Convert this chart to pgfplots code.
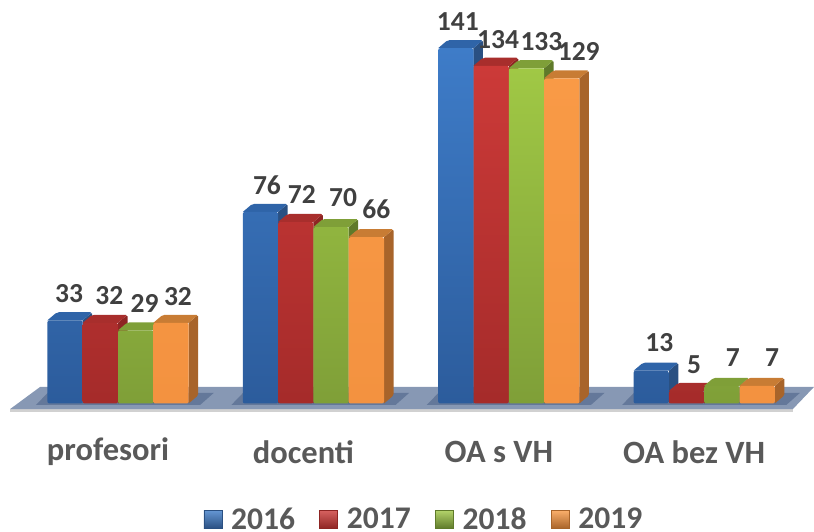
\documentclass[border=0pt]{standalone}
\usepackage{pgfplots}
\pgfplotsset{compat=1.18}
\usepackage{fontspec}
\setmainfont{Carlito}

\definecolor{labelgray}{HTML}{404040}
\definecolor{catgray}{HTML}{595959}
\definecolor{floorc}{HTML}{8798B4}
\definecolor{floorshadow}{HTML}{64789A}
\definecolor{front16a}{HTML}{3E7CC8}
\definecolor{front16b}{HTML}{2C5C9C}
\definecolor{side16}{HTML}{2A5082}
\definecolor{top16}{HTML}{2F64A8}
\definecolor{front17a}{HTML}{CC3A38}
\definecolor{front17b}{HTML}{A52B2A}
\definecolor{side17}{HTML}{8E2523}
\definecolor{top17}{HTML}{A82E2C}
\definecolor{front18a}{HTML}{A0C845}
\definecolor{front18b}{HTML}{7F9F38}
\definecolor{side18}{HTML}{5F7A2A}
\definecolor{top18}{HTML}{7F9F38}
\definecolor{front19a}{HTML}{F99A46}
\definecolor{front19b}{HTML}{F39240}
\definecolor{side19}{HTML}{A8642A}
\definecolor{top19}{HTML}{C87C34}

\newcommand{\bw}{0.1807}
\newcommand{\dd}{0.0486}
\newcommand{\ed}{3.2}
% side and top of one bar: group, position in group, value, side colour, top colour
\newcommand{\faces}[5]{%
  \pgfmathsetmacro\xa{#1+(#2-1.5)*\bw-\bw/2}%
  \pgfmathsetmacro\xb{\xa+\bw}%
  \pgfmathsetmacro\yb{#3+\ed}%
  \pgfmathsetmacro\xc{\xb+\dd}%
  \pgfmathsetmacro\xd{\xa+\dd}%
  \addplot[forget plot, fill=#4, draw=none, rounded corners=1.5pt] coordinates {(\xb,0) (\xc,\ed) (\xc,\yb) (\xb,#3)};
  \addplot[forget plot, fill=#5, draw=none, rounded corners=2pt] coordinates {(\xa,#3) (\xd,\yb) (\xc,\yb) (\xb,#3)};
}

\pgfplotstableread{
x y dx dy
0 33 4 26.8
1 76 6.5 27
2 141 2 26.2
3 13 8 27.7
}\seriesA
\pgfplotstableread{
x y dx dy
0 32 9 26.9
1 72 6 28
2 134 7 25.8
3 5 7.5 26
}\seriesB
\pgfplotstableread{
x y dx dy
0 29 9 26.9
1 70 12 29
2 133 15 26.3
3 7 11 28
}\seriesC
\pgfplotstableread{
x y dx dy
0 32 7 25.9
1 66 10 28
2 129 17 26.4
3 7 15 28
}\seriesD

\pgfplotsset{
  front/.style={forget plot, ybar, bar width=35.3pt, draw=none, rounded corners=2pt},
  vals/.style={forget plot, draw=none, mark=none,
    point meta=explicit symbolic,
    visualization depends on={\thisrow{dx} \as \dxv},
    visualization depends on={\thisrow{dy} \as \dyv},
    nodes near coords,
    every node near coord/.append style={anchor=center, inner sep=0pt,
      font=\fontsize{27.5pt}{30pt}\selectfont\bfseries, text=labelgray,
      xshift=\dxv pt + #1pt, yshift=\dyv pt}},
}

\begin{document}
\begin{tikzpicture}
\begin{axis}[
  scale only axis, width=814pt, height=531pt,
  xmin=-0.604, xmax=3.562, ymin=-50.6, ymax=160.1,
  axis line style={draw=none}, tick style={draw=none},
  ytick=\empty,
  xtick={0,1,2,3},
  xticklabels={profesori,docenti,OA s VH,OA bez VH},
  xticklabel style={anchor=center, xshift=-10pt, yshift=79pt,
    font=\fontsize{32.5pt}{34pt}\selectfont\bfseries, text=catgray},
  legend columns=4,
  legend style={at={(axis cs:-0.604,-46)}, anchor=west, xshift=203.5pt, draw=none, fill=none,
    inner sep=0pt, font=\fontsize{31.5pt}{33pt}\selectfont\bfseries, text=catgray,
    /tikz/every even column/.append style={column sep=24.5pt},
    nodes={inner sep=0pt, inner xsep=0pt}},
]

% floor
\addplot[forget plot, fill=black!18, draw=none] coordinates {(-0.552,-2.2) (3.454,-2.2) (3.454,-3.4) (-0.552,-3.4)};
\addplot[forget plot, fill=floorc, draw=none] coordinates {(-0.399,6.55) (3.562,6.55) (3.454,-2.2) (-0.552,-2.2)};
\addplot[forget plot, fill=floorshadow, draw=none] coordinates {(-0.42,-0.6) (-0.36,4.2) (0.49,4.2) (0.42,-0.6)};
\addplot[forget plot, fill=floorshadow, draw=none] coordinates {(0.58,-0.6) (0.64,4.2) (1.49,4.2) (1.42,-0.6)};
\addplot[forget plot, fill=floorshadow, draw=none] coordinates {(1.58,-0.6) (1.64,4.2) (2.49,4.2) (2.42,-0.6)};
\addplot[forget plot, fill=floorshadow, draw=none] coordinates {(2.58,-0.6) (2.64,4.2) (3.49,4.2) (3.42,-0.6)};

% 2016
\faces{0}{0}{33}{side16}{top16}
\faces{1}{0}{76}{side16}{top16}
\faces{2}{0}{141}{side16}{top16}
\faces{3}{0}{13}{side16}{top16}
\addplot[front, bar shift=-52.95pt, top color=front16a, bottom color=front16b] table[x=x,y=y] {\seriesA};
% 2017
\faces{0}{1}{32}{side17}{top17}
\faces{1}{1}{72}{side17}{top17}
\faces{2}{1}{134}{side17}{top17}
\faces{3}{1}{5}{side17}{top17}
\addplot[front, bar shift=-17.65pt, top color=front17a, bottom color=front17b] table[x=x,y=y] {\seriesB};
% 2018
\faces{0}{2}{29}{side18}{top18}
\faces{1}{2}{70}{side18}{top18}
\faces{2}{2}{133}{side18}{top18}
\faces{3}{2}{7}{side18}{top18}
\addplot[front, bar shift=17.65pt, top color=front18a, bottom color=front18b] table[x=x,y=y] {\seriesC};
% 2019
\faces{0}{3}{32}{side19}{top19}
\faces{1}{3}{66}{side19}{top19}
\faces{2}{3}{129}{side19}{top19}
\faces{3}{3}{7}{side19}{top19}
\addplot[front, bar shift=52.95pt, top color=front19a, bottom color=front19b] table[x=x,y=y] {\seriesD};

% value labels
\addplot[vals=-52.95] table[x=x,y=y,meta=y] {\seriesA};
\addplot[vals=-17.65] table[x=x,y=y,meta=y] {\seriesB};
\addplot[vals=17.65] table[x=x,y=y,meta=y] {\seriesC};
\addplot[vals=52.95] table[x=x,y=y,meta=y] {\seriesD};

% legend
\addlegendimage{legend image code/.code={\shade[top color=front16a!80!white, bottom color=side16, draw=side16] (0pt,-9pt) rectangle (18pt,9pt);}}
\addlegendentry{\hspace{9pt}2016}
\addlegendimage{legend image code/.code={\shade[top color=front17a!80!white, bottom color=side17, draw=side17] (0pt,-9pt) rectangle (18pt,9pt);}}
\addlegendentry{\hspace{9pt}2017}
\addlegendimage{legend image code/.code={\shade[top color=front18a!80!white, bottom color=side18, draw=side18] (0pt,-9pt) rectangle (18pt,9pt);}}
\addlegendentry{\hspace{9pt}2018}
\addlegendimage{legend image code/.code={\shade[top color=front19a!80!white, bottom color=side19, draw=side19] (0pt,-9pt) rectangle (18pt,9pt);}}
\addlegendentry{\hspace{9pt}2019}
\end{axis}
\end{tikzpicture}
\end{document}
